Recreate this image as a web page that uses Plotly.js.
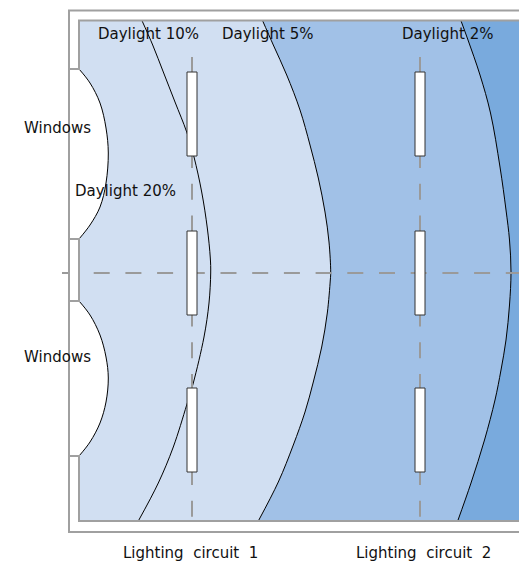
<!DOCTYPE html>
<html><head><meta charset="utf-8">
<script src="https://cdn.plot.ly/plotly-3.0.1.min.js"></script>
<style>html,body{margin:0;padding:0;background:#fff}#c{width:519px;height:562px}
path.js-line{stroke-linejoin:miter !important;stroke-miterlimit:10 !important}</style>
</head><body><div id="c"></div>
<script>
const curve10X=[141.7,152.7,163.3,175,186.7,194,201.7,207.3,210.3,210.7,209,204,193.3,186.7,173.3,158.3,138.3];
const curve10Y=[20,45,72,102,132,157,192,228,258,273,303,337,383,405,447,483,521];
const curve5X=[262.3,273.3,286.7,300,310,318.3,325,329,330.7,330.3,327.3,321.7,313.3,305,293.3,278.3,258.3];
const curve5Y=[20,45,75,110,145,178,212,242,272,280,313,347,382,412,445,482,521];
const curve2X=[460.7,468,480,490.5,500,506,509.5,511,509.5,506,501,495,484.5,471,457.7];
const curve2Y=[20,40,75,113,167,210,240,272,305,340,370,400,440,483,521];
const window1X=[79,90,100,106,108.3,106,100,90,79];
const window1Y=[69,83,103,128,153,183,207,225,239];
const window2X=[79,90,100,106,108.3,106,100,90,79];
const window2Y=[301,315,335,357,378,402,423,442,456];
const lampXLeft=[187,415];
const lampXRight=[197,425];
const lampTops=[72,231,388];
const lampBottoms=[156,315,472];
const labels=["Daylight 10%","Daylight 5%","Daylight 2%","Daylight 20%","Windows","Windows","Lighting  circuit  1","Lighting  circuit  2"];
const labelX=[148.5,267.5,447,125,57.5,57.5,190.5,423];
const labelY=[34,34,34,191,128,357,553,553];
const light='#D1DFF2',mid='#A1C1E7',dark='#79AADD',gray='#A0A0A0';
const ln=(x,y,c,w,d)=>({x,y,mode:'lines',line:{color:c,width:w,dash:d||'solid'},hoverinfo:'skip',showlegend:false});
const traces=[];
traces.push({x:[79,519,519,79,79],y:[20,20,521,521,20],mode:'lines',line:{width:0},fill:'toself',fillcolor:light,hoverinfo:'skip',showlegend:false});
traces.push(ln([519,519],[20,521],light,0));
traces.push(Object.assign(ln(curve5X,curve5Y,'#000',1),{fill:'tonextx',fillcolor:mid,line:{color:'#000',width:1,shape:'spline'}}));
traces.push(ln([519,519],[20,521],light,0));
traces.push(Object.assign(ln(curve2X,curve2Y,'#000',1),{fill:'tonextx',fillcolor:dark,line:{color:'#000',width:1,shape:'spline'}}));
traces.push(Object.assign(ln(curve10X,curve10Y,'#000',1),{line:{color:'#000',width:1,shape:'spline'}}));
const dash='16px,15.7px';
traces.push(ln([62,519],[273,273],'#9A9A9A',2,dash));
traces.push(ln([192,192],[57,517],'#9A9A9A',2,dash));
traces.push(ln([420,420],[57,517],'#9A9A9A',2,dash));
traces.push({x:[69,79,79,69,69],y:[239,239,301,301,239],mode:'lines',line:{width:0},fill:'toself',fillcolor:'#fff',hoverinfo:'skip',showlegend:false});
[[window1X,window1Y],[window2X,window2Y]].forEach(([x,y])=>traces.push({x,y,mode:'lines',line:{color:'#000',width:1,shape:'spline'},fill:'toself',fillcolor:'#fff',hoverinfo:'skip',showlegend:false}));
traces.push(ln([519,69,69,519],[10.5,10.5,532,532],gray,2));
traces.push(ln([69,79,79,519],[69,69,20.5,20.5],gray,2));
traces.push(ln([69,79,79,69],[239,239,301,301],gray,2));
traces.push(ln([69,79,79,519],[456,456,521,521],gray,2));
lampXLeft.forEach((l,i)=>lampTops.forEach((t,j)=>{
  const r=lampXRight[i],b=lampBottoms[j];
  traces.push({x:[l,r,r,l,l],y:[t,t,b,b,t],mode:'lines',line:{color:'#333',width:1},fill:'toself',fillcolor:'#fff',hoverinfo:'skip',showlegend:false});
}));
const layout={width:519,height:562,margin:{l:0,r:0,t:0,b:0},paper_bgcolor:'#fff',plot_bgcolor:'#fff',showlegend:false,
 xaxis:{range:[0,519],visible:false,fixedrange:true},yaxis:{range:[562,0],visible:false,fixedrange:true},
 annotations:labels.map((t,i)=>({text:t.replace(/  /g,'\u00a0\u00a0'),x:labelX[i],y:labelY[i],xref:'x',yref:'y',showarrow:false,xanchor:'center',yanchor:'middle',font:{family:'"DejaVu Sans",sans-serif',size:15,color:'#111'}}))};
Plotly.newPlot('c',traces,layout,{displayModeBar:false,staticPlot:true});
</script></body></html>
